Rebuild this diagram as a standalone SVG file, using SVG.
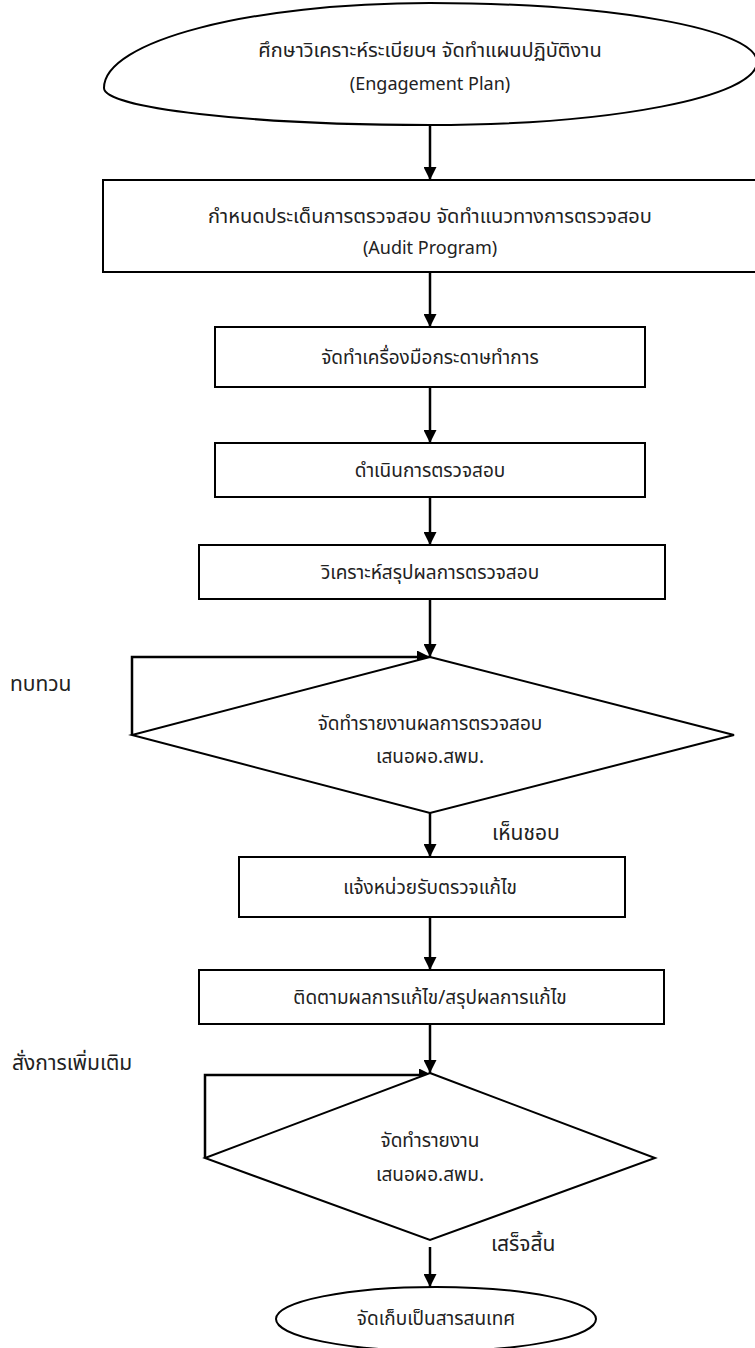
<svg xmlns="http://www.w3.org/2000/svg" width="755" height="1348" viewBox="0 0 755 1348">
  <style>
    .shape { fill: #ffffff; stroke: #000000; stroke-width: 2; }
    .edge { fill: none; stroke: #000000; stroke-width: 2.5; }
    .t { font-family: "Noto Sans Thai", "Noto Sans Thai UI", "Noto Sans", "DejaVu Sans", sans-serif; font-size: 19px; fill: #222222; text-anchor: middle; }
    .big { font-size: 20px; }
    .en { font-size: 18px; }
    .lbl { font-family: "Noto Sans Thai", "Noto Sans Thai UI", "Noto Sans", "DejaVu Sans", sans-serif; font-size: 21px; fill: #222222; text-anchor: start; }
  </style>
  <defs>
    <marker id="arrow" viewBox="0 0 10 10" refX="10" refY="5" markerUnits="userSpaceOnUse" markerWidth="14" markerHeight="13" orient="auto">
      <path d="M0,0 L10,5 L0,10 z" fill="#000000"/>
    </marker>
  </defs>
  <rect width="755" height="1348" fill="#ffffff"/>

  <!-- flow connectors -->
  <g id="connectors">
    <line class="edge" x1="430" y1="125" x2="430" y2="180" marker-end="url(#arrow)"/>
    <line class="edge" x1="430" y1="272" x2="430" y2="327" marker-end="url(#arrow)"/>
    <line class="edge" x1="430" y1="387" x2="430" y2="443" marker-end="url(#arrow)"/>
    <line class="edge" x1="430" y1="497" x2="430" y2="545" marker-end="url(#arrow)"/>
    <line class="edge" x1="430" y1="599" x2="430" y2="657" marker-end="url(#arrow)"/>
    <polyline class="edge" points="132,735 132,657 430,657" marker-end="url(#arrow)"/>
    <line class="edge" x1="430" y1="813" x2="430" y2="857" marker-end="url(#arrow)"/>
    <line class="edge" x1="430" y1="917" x2="430" y2="970" marker-end="url(#arrow)"/>
    <line class="edge" x1="430" y1="1024" x2="430" y2="1073" marker-end="url(#arrow)"/>
    <polyline class="edge" points="205,1158 205,1075 432,1075" marker-end="url(#arrow)"/>
    <line class="edge" x1="430" y1="1247" x2="430" y2="1287" marker-end="url(#arrow)"/>
  </g>

  <!-- start terminator: a hand-drawn oval, left end sitting a little low -->
  <g id="start">
    <path class="shape" d="M104,88 C104,41 250,3 430,3 C611,3 757,29 757,62 C757,97 611,125 430,125 C250,125 104,108 104,88 Z"/>
    <text class="t big" x="430" y="57">ศึกษาวิเคราะห์ระเบียบฯ จัดทำแผนปฏิบัติงาน</text>
    <text class="t en" x="430" y="90">(Engagement Plan)</text>
  </g>

  <g id="audit-program">
    <rect class="shape" x="103" y="180" width="700" height="92"/>
    <text class="t big" x="430" y="223">กำหนดประเด็นการตรวจสอบ จัดทำแนวทางการตรวจสอบ</text>
    <text class="t en" x="430" y="254">(Audit Program)</text>
  </g>

  <g id="working-papers">
    <rect class="shape" x="215" y="327" width="430" height="60"/>
    <text class="t" x="430" y="364">จัดทำเครื่องมือกระดาษทำการ</text>
  </g>

  <g id="conduct">
    <rect class="shape" x="215" y="443" width="430" height="54"/>
    <text class="t" x="430" y="477">ดำเนินการตรวจสอบ</text>
  </g>

  <g id="analyse">
    <rect class="shape" x="199" y="545" width="466" height="54"/>
    <text class="t" x="430" y="579">วิเคราะห์สรุปผลการตรวจสอบ</text>
  </g>

  <g id="report-review">
    <polygon class="shape" points="430,657 734,735 430,813 132,735"/>
    <text class="t" x="430" y="730">จัดทำรายงานผลการตรวจสอบ</text>
    <text class="t" x="430" y="763">เสนอผอ.สพม.</text>
  </g>

  <g id="notify">
    <rect class="shape" x="239" y="857" width="386" height="60"/>
    <text class="t" x="430" y="894">แจ้งหน่วยรับตรวจแก้ไข</text>
  </g>

  <g id="follow-up">
    <rect class="shape" x="199" y="970" width="465" height="54"/>
    <text class="t" x="430" y="1004">ติดตามผลการแก้ไข/สรุปผลการแก้ไข</text>
  </g>

  <g id="final-report">
    <polygon class="shape" points="430,1073 655,1158 430,1240 205,1158"/>
    <text class="t" x="430" y="1147">จัดทำรายงาน</text>
    <text class="t" x="430" y="1181">เสนอผอ.สพม.</text>
  </g>

  <g id="archive">
    <ellipse class="shape" cx="436" cy="1319" rx="160" ry="32"/>
    <text class="t" x="436" y="1325">จัดเก็บเป็นสารสนเทศ</text>
  </g>

  <!-- branch labels -->
  <g id="labels">
    <text class="lbl" x="10" y="691">ทบทวน</text>
    <text class="lbl" x="492" y="840">เห็นชอบ</text>
    <text class="lbl" x="12" y="1070">สั่งการเพิ่มเติม</text>
    <text class="lbl" x="491" y="1251">เสร็จสิ้น</text>
  </g>
</svg>
